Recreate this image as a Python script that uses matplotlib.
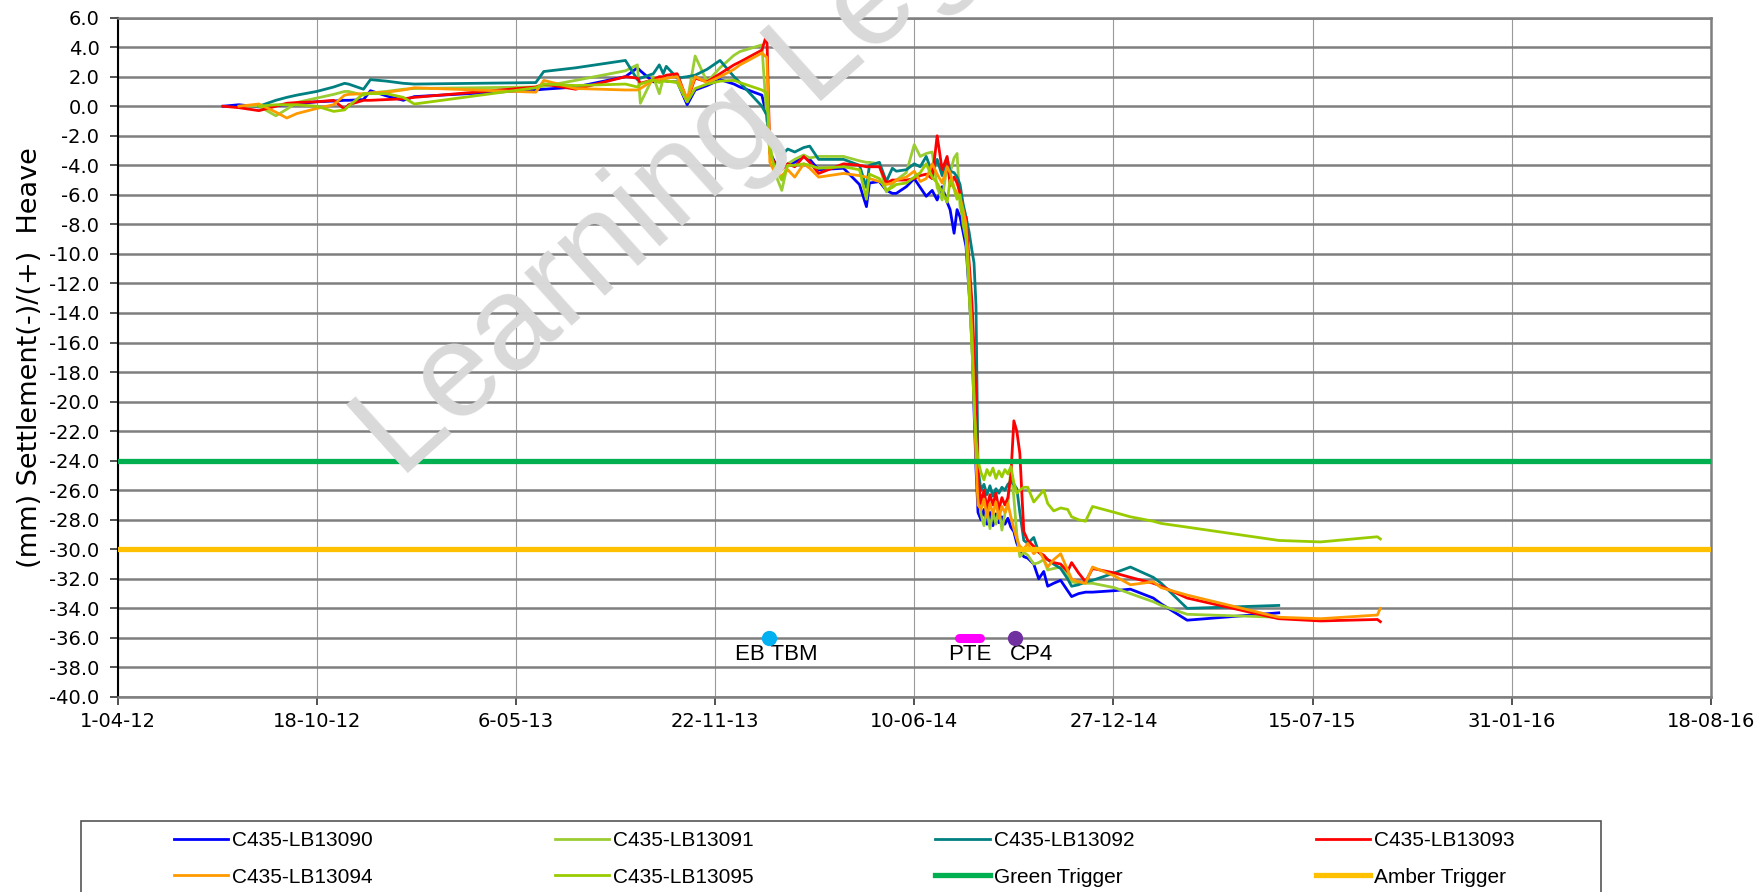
"""Settlement / heave monitoring for C435 level points, with trigger levels."""

import numpy as np
import pandas as pd
import matplotlib
matplotlib.use('Agg')
import matplotlib.pyplot as plt
from matplotlib.patches import Rectangle

nan = np.nan

# survey dates shared by all points (nan where a point was not read)
survey_dates = [
    '2012-07-16', '2012-08-01', '2012-08-21', '2012-09-07', '2012-09-18',
    '2012-09-28', '2012-10-18', '2012-11-04', '2012-11-15', '2012-11-19',
    '2012-12-04', '2012-12-11', '2012-12-27', '2013-01-13', '2013-01-24',
    '2013-05-26', '2013-06-03',
    '2013-07-05', '2013-08-24', '2013-09-05', '2013-09-08', '2013-09-21',
    '2013-09-27', '2013-10-01', '2013-10-04', '2013-10-15', '2013-10-25',
    '2013-11-02', '2013-11-14', '2013-11-27', '2013-12-11', '2013-12-17',
    '2014-01-08', '2014-01-13',
    '2014-01-16', '2014-01-21', '2014-01-28', '2014-02-03', '2014-02-10',
    '2014-02-19', '2014-02-25', '2014-03-06', '2014-03-31', '2014-04-16',
    '2014-04-23', '2014-04-26', '2014-05-06', '2014-05-13', '2014-05-19',
    '2014-05-23', '2014-06-02', '2014-06-10', '2014-06-16', '2014-06-22',
    '2014-06-28', '2014-07-03', '2014-07-08', '2014-07-13', '2014-07-16',
    '2014-07-20', '2014-07-23', '2014-07-26', '2014-07-29',
    '2014-08-01', '2014-08-04', '2014-08-07', '2014-08-09', '2014-08-11',
    '2014-08-13',
    '2014-08-16', '2014-08-19', '2014-08-22', '2014-08-25', '2014-08-28',
    '2014-08-31', '2014-09-03', '2014-09-06', '2014-09-09', '2014-09-12',
    '2014-09-15', '2014-09-18', '2014-09-21', '2014-09-24', '2014-09-28',
    '2014-10-02', '2014-10-08', '2014-10-13', '2014-10-18', '2014-10-22',
    '2014-10-28', '2014-11-04', '2014-11-11', '2014-11-15', '2014-11-22',
    '2014-11-29', '2014-12-06', '2014-12-28', '2015-01-13', '2015-02-05',
    '2015-02-13', '2015-03-11', '2015-06-11', '2015-07-23', '2015-09-18',
    '2015-09-21',
]

lb13090 = [
    0.0, 0.1, -0.05, 0.05, 0.1, 0.15, 0.3, 0.35, 0.4, 0.4, 0.45, 1.05, 0.7, 0.4, 0.65,
    1.1, 1.15,
    1.3, 2.0, 2.6, 2.4, 1.65, 1.7, 1.75, 1.7, 1.65, 0.1, 1.1, 1.4, 1.8, 1.5, 1.3, 0.75, -0.7,
    -3.1, -3.8, -4.2, -3.9, -3.8, -3.4, -3.6, -4.3, -4.2, -5.3, -6.8, -5.2, -5.1, -5.7, -5.9,
    -5.9, -5.45, -4.9, -5.5, -6.1, -5.7, -6.35, -5.45, -6.5, -7.0, -8.6, -7.0, -7.5, -8.5,
    -9.5, -12.5, -16.0, -20.5, -24.5, -27.5,
    -28.0, -27.3, -28.3, -27.5, -28.4, -27.6, -28.2, -27.8, -28.3, -27.9, -28.5, -28.8,
    -29.6, -30.05, -30.5, -30.6, -31.0, -32.0, -31.5, -32.5, -32.3, -32.1, -32.8, -33.2,
    -33.0, -32.9, -32.9, -32.8, -32.7, -33.3, -33.7, -34.8, -34.3, nan, nan, nan,
]

lb13091 = [
    nan, 0.0, 0.0, -0.65, -0.2, 0.25, 0.55, 0.8, 1.0, 1.0, 0.75, 0.9, 1.0, 1.15, 1.2,
    1.3, 1.35,
    1.75, 2.4, 2.8, 0.2, 2.0, 0.85, 1.9, 1.7, 1.65, 0.3, 3.4, 1.65, 2.6, 3.45, 3.7, 4.15, -0.9,
    -2.5, -4.5, -5.7, -3.9, -3.6, -3.3, -3.5, -3.4, -3.4, -3.7, -3.8, -3.8, -3.9, -5.8, -5.3,
    -5.0, -4.5, -2.6, -3.4, -3.2, -3.1, -5.5, -6.35, -4.0, -4.5, -3.5, -3.2, -6.8, -7.5,
    -8.5, -12.0, -16.5, -19.0, -22.0, -25.5,
    -27.6, -28.4, -27.3, -28.6, -27.5, -28.3, -27.2, -28.7, -27.6, -27.0, -24.5, -26.5,
    -29.0, -30.5, -30.2, -30.4, -31.0, -30.9, -30.7, -31.4, -31.3, -31.2, -31.7, -32.2,
    -32.3, -32.3, -32.3, -32.6, -33.0, -33.55, -33.8, -34.4, -34.6, nan, nan, nan,
]

lb13092 = [
    nan, nan, 0.0, 0.4, 0.6, 0.75, 1.0, 1.3, 1.55, 1.5, 1.15, 1.8, 1.7, 1.55, 1.5,
    1.6, 2.35,
    2.6, 3.1, 1.8, 1.9, 2.2, 2.8, 2.2, 2.7, 1.9, 2.0, 2.1, 2.5, 3.1, 2.0, 1.6, 0.0, -0.6,
    -2.3, -2.9, -3.3, -2.9, -3.1, -2.8, -2.7, -3.6, -3.6, -4.0, -5.5, -4.0, -3.8, -5.1, -4.2,
    -4.4, -4.3, -3.9, -4.1, -3.4, -4.5, -3.6, -4.7, -3.5, -4.4, -4.5, -4.8, -5.3, -6.6,
    -7.5, -8.5, -9.8, -10.6, -13.5, -24.5,
    -26.0, -25.6, -26.3, -25.7, -26.4, -25.9, -26.2, -25.8, -26.0, -25.6, -25.4, -25.6,
    -25.9, -27.5, -29.4, -29.6, -29.2, -30.2, -30.5, -30.7, -31.0, -31.3, -32.0, -32.5,
    -32.4, -32.2, -32.1, -31.6, -31.2, -31.9, -32.3, -34.0, -33.8, nan, nan, nan,
]

lb13093 = [
    0.0, -0.1, -0.3, 0.0, 0.2, 0.25, 0.3, 0.4, -0.2, 0.1, 0.4, 0.4, 0.45, 0.5, 0.6,
    1.3, 1.5,
    1.15, 2.0, 1.9, 1.55, 1.8, 2.0, 2.0, 2.1, 2.2, 0.4, 1.9, 1.65, 2.2, 2.8, 3.0, 3.8, 4.9,
    -3.2, -3.9, -4.3, -3.9, -4.1, -3.4, -3.8, -4.55, -3.9, -4.0, -4.1, -4.1, -4.1, -5.2, -5.0,
    -5.0, -5.0, -4.9, -4.7, -4.6, -4.9, -2.0, -4.3, -3.4, -5.4, -4.8, -5.2, -5.9, -7.7,
    -7.5, -10.5, -13.3, -16.5, -19.5, -25.0,
    -26.9, -26.0, -27.2, -26.3, -27.0, -26.2, -27.3, -26.5, -27.0, -26.5, -25.0, -21.3,
    -22.0, -23.5, -28.8, -29.4, -29.8, -30.2, -30.4, -30.7, -30.9, -31.0, -31.5, -30.9,
    -31.6, -32.2, -31.3, -31.6, -31.9, -32.3, -32.5, -33.3, -34.7, -34.85, -34.75, -34.9,
]

lb13094 = [
    nan, 0.0, 0.15, -0.4, -0.8, -0.5, -0.15, 0.1, 0.75, 0.8, 0.85, 0.9, 0.95, 1.1, 1.25,
    0.95, 1.75,
    1.2, 1.1, 1.1, 1.2, 1.75, 1.8, 1.85, 1.9, 2.0, 0.5, 2.0, 1.6, 2.0, 2.5, 2.8, 3.6, 3.3,
    -3.8, -4.5, -4.7, -4.3, -4.8, -3.9, -4.2, -4.8, -4.55, -4.7, -4.8, -4.9, -5.1, -5.3, -5.2,
    -5.0, -4.8, -4.4, -5.1, -4.9, -3.9, -4.6, -5.2, -4.1, -4.5, -5.5, -5.9, -6.2, -7.0,
    -8.0, -11.5, -15.5, -19.5, -24.0, -27.0,
    -27.3, -26.6, -27.8, -26.9, -27.6, -26.8, -27.9, -27.1, -27.5, -26.9, -27.8, -28.6,
    -29.3, -29.8, -30.0, -29.6, -30.3, -30.0, -30.7, -31.2, -30.7, -30.3, -31.4, -32.0,
    -32.2, -32.3, -31.2, -31.8, -32.4, -32.2, -32.6, -33.1, -34.6, -34.7, -34.45, -34.0,
]

lb13095 = [
    nan, nan, 0.0, 0.1, 0.1, 0.1, 0.0, -0.35, -0.25, 0.0, 0.85, 0.85, 0.85, 0.6, 0.15,
    1.25, 1.5,
    1.4, 1.5, 1.3, 1.5, 1.8, 1.6, 1.7, 1.7, 1.6, 0.3, 1.2, 1.5, 1.7, 1.75, 1.6, 1.1, 0.9,
    -3.0, -4.2, -5.0, -4.0, -4.0, -3.9, -4.0, -4.2, -4.1, -4.3, -6.3, -4.6, -4.9, -5.7, -5.5,
    -5.3, -5.2, -4.8, -4.5, -3.9, -4.8, -5.2, -5.8, -6.5, -5.0, -5.6, -6.3, -6.0, -8.0,
    -9.0, -12.5, -16.3, -20.1, -22.5, -24.0,
    -24.8, -25.3, -24.6, -25.0, -24.5, -25.2, -24.7, -25.1, -24.6, -24.9, -24.4, -25.5,
    -26.2, -26.0, -25.8, -25.8, -26.8, -26.4, -26.0, -26.9, -27.4, -27.2, -27.3, -27.8,
    -28.0, -28.1, -27.1, -27.5, -27.8, -28.1, -28.25, -28.5, -29.4, -29.5, -29.15, -29.3,
]

series_names = ['C435-LB13090', 'C435-LB13091', 'C435-LB13092',
                'C435-LB13093', 'C435-LB13094', 'C435-LB13095']
series_values = [lb13090, lb13091, lb13092, lb13093, lb13094, lb13095]
series_colors = ['#0000FF', '#9ACD32', '#008080', '#FF0000', '#FF9900', '#99CC00']

green_trigger = -24.0
amber_trigger = -30.0

# construction events shown along the -36 line
event_names = ['EB TBM', 'PTE', 'CP4']
event_start = ['2014-01-15', '2014-07-25', '2014-09-19']
event_end = ['2014-01-15', '2014-08-15', '2014-09-19']
event_level = -36.0
event_colors = ['#00B0F0', '#FF00FF', '#7030A0']

x_start = pd.Timestamp('2012-04-01')
x_end = pd.Timestamp('2016-08-18')
x_step_days = 200

W, H = 1762, 892
fig = plt.figure(figsize=(W / 100, H / 100), dpi=100)
ax = fig.add_axes([117.5 / W, 1 - 697 / H, (1711 - 117.5) / W, (697 - 17.6) / H])

dates = pd.to_datetime(survey_dates)
for name, vals, col in zip(series_names, series_values, series_colors):
    ax.plot(dates, vals, color=col, lw=2.0, label=name, zorder=3,
            solid_joinstyle='round')

ax.axhline(green_trigger, color='#00B050', lw=3.8, label='Green Trigger', zorder=4)
ax.axhline(amber_trigger, color='#FFC000', lw=3.8, label='Amber Trigger', zorder=4)

# events: dots / bar plus a text label underneath
for name, s, e, col in zip(event_names, event_start, event_end, event_colors):
    s, e = pd.Timestamp(s), pd.Timestamp(e)
    if s == e:
        ax.plot([s], [event_level], 'o', color=col, ms=10, zorder=5)
    else:
        ax.plot([s, e], [event_level, event_level], color=col, lw=6.5,
                solid_capstyle='round', zorder=5)
lbl_font = dict(family=['Liberation Sans', 'DejaVu Sans'], fontsize=16, va='center')
ax.text(pd.Timestamp('2014-01-22'), -37.15, 'EB TBM', ha='center', **lbl_font)
ax.text(pd.Timestamp('2014-08-05'), -37.15, 'PTE', ha='center', **lbl_font)
ax.text(pd.Timestamp('2014-09-14'), -37.15, 'CP4', ha='left', **lbl_font)

# axes
ax.set_xlim(x_start, x_end)
ax.set_ylim(-40, 6)
ticks = pd.date_range(x_start, x_end, freq=f'{x_step_days}D')
ax.set_xticks(ticks)
ax.set_xticklabels([f'{d.day}-{d.month:02d}-{d.year % 100:02d}' for d in ticks])
ax.set_yticks(np.arange(-40, 6.1, 2))
ax.yaxis.set_major_formatter(matplotlib.ticker.FormatStrFormatter('%.1f'))
ax.tick_params(axis='both', labelsize=14, length=6, width=1.2, color='#333333')
ax.tick_params(axis='x', pad=5)
ax.tick_params(axis='y', pad=7)

ax.grid(axis='y', color='#7f7f7f', lw=1.8, zorder=0)
ax.grid(axis='x', color='#9a9a9a', lw=0.8, zorder=0)
ax.set_axisbelow(True)
ax.spines['left'].set_color('black')
ax.spines['left'].set_linewidth(1.5)
for side in ['top', 'right', 'bottom']:
    ax.spines[side].set_color('#7f7f7f')
    ax.spines[side].set_linewidth(1.8)

ax.set_ylabel('(mm) Settlement(-)/(+)  Heave', fontsize=19.5)
ax.yaxis.set_label_coords(-0.047, 0.5)

# watermark
fig.text(400 / W, 1 - 480 / H, 'Learning Legacy', fontsize=96, color='#d9d9d9',
         family=['Liberation Sans', 'DejaVu Sans'], rotation=42,
         rotation_mode='anchor', ha='left', va='baseline', zorder=2)

# legend box below the chart, running off the bottom edge
fig.patches.append(Rectangle((81 / W, -0.05), (1601 - 81) / W, 0.05 + 1 - 821 / H,
                             transform=fig.transFigure, fill=False,
                             edgecolor='#555555', lw=1.2))
h, l = ax.get_legend_handles_labels()
order = [0, 4, 1, 5, 2, 6, 3, 7]
leg = fig.legend([h[i] for i in order], [l[i] for i in order], ncol=4,
                 loc='upper left', bbox_to_anchor=(174 / W, 1 - 831 / H),
                 frameon=False, borderpad=0, borderaxespad=0,
                 handlelength=2.6, handletextpad=0.2, columnspacing=8.72,
                 labelspacing=0.85, prop={'family': ['Liberation Sans', 'DejaVu Sans'],
                                          'size': 15})

fig.savefig('out.png', dpi=100)
